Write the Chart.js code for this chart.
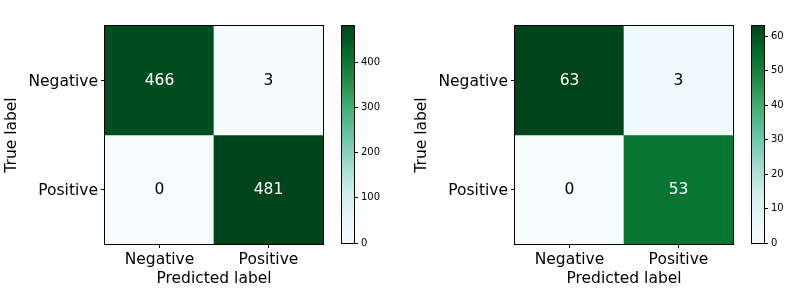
<!DOCTYPE html>
<html>
<head>
<meta charset="utf-8">
<script src="https://cdn.jsdelivr.net/npm/chart.js@4"></script>
<style>
  body { margin: 0; background: #fff; }
  #wrap { position: relative; width: 791px; height: 293px; overflow: hidden; background: #fff; }
  canvas { position: absolute; top: 0; }
</style>
</head>
<body>
<div id="wrap">
  <canvas id="cm-train" width="340" height="293" style="left:0px"></canvas>
  <canvas id="cb-train" width="50" height="293" style="left:335px"></canvas>
  <canvas id="cm-test" width="340" height="293" style="left:410px"></canvas>
  <canvas id="cb-test" width="50" height="293" style="left:745px"></canvas>
</div>
<script>
const predictedLabels = ['Negative', 'Positive'];
const trueLabels = ['Negative', 'Positive'];
const trainMatrix = [[466, 3], [0, 481]];
const testMatrix = [[63, 3], [0, 53]];
const trainTicks = [0, 100, 200, 300, 400];
const testTicks = [0, 10, 20, 30, 40, 50, 60];

// BuGn colormap
const cmapStops = ['#f7fcfd', '#e5f5f9', '#ccece6', '#99d8c9', '#66c2a4', '#41ae76', '#238b45', '#006d2c', '#00441b'];

const FONT_SIZE = 15.5;

function hexToRgb(h) {
  return [parseInt(h.slice(1, 3), 16), parseInt(h.slice(3, 5), 16), parseInt(h.slice(5, 7), 16)];
}

function cmap(t) {
  t = Math.max(0, Math.min(1, t));
  const pos = t * (cmapStops.length - 1);
  const i = Math.min(Math.floor(pos), cmapStops.length - 2);
  const f = pos - i;
  const a = hexToRgb(cmapStops[i]);
  const b = hexToRgb(cmapStops[i + 1]);
  const c = a.map((v, k) => Math.round(v + (b[k] - v) * f));
  return `rgb(${c[0]},${c[1]},${c[2]})`;
}

Chart.defaults.font.family = '"DejaVu Sans", sans-serif';
Chart.defaults.color = '#000';

const framePlugin = {
  id: 'frame',
  afterDraw(chart) {
    const { ctx, chartArea } = chart;
    ctx.save();
    ctx.strokeStyle = '#000';
    ctx.lineWidth = 1;
    ctx.strokeRect(Math.round(chartArea.left) - 0.5, Math.round(chartArea.top) - 0.5,
      Math.round(chartArea.right - chartArea.left) + 1, Math.round(chartArea.bottom - chartArea.top) + 1);
    ctx.restore();
  },
};

const cellTextPlugin = {
  id: 'cellText',
  afterDatasetsDraw(chart) {
    const { ctx } = chart;
    const { vmin, vmax } = chart.options.plugins.cellText;
    const thresh = (vmin + vmax) / 2;
    ctx.save();
    ctx.font = FONT_SIZE + 'px "DejaVu Sans"';
    ctx.textAlign = 'center';
    ctx.textBaseline = 'middle';
    chart.data.datasets.forEach((ds, i) => {
      chart.getDatasetMeta(i).data.forEach((bar, j) => {
        const v = ds.counts[j];
        const p = bar.getProps(['x', 'y', 'base'], true);
        ctx.fillStyle = v > thresh ? '#fff' : '#000';
        ctx.fillText(String(v), p.x, (p.y + p.base) / 2);
      });
    });
    ctx.restore();
  },
};

function drawMatrix(id, matrix) {
  const flat = matrix.flat();
  const vmin = Math.min(...flat);
  const vmax = Math.max(...flat);
  new Chart(document.getElementById(id), {
    type: 'bar',
    data: {
      labels: predictedLabels,
      datasets: trueLabels.map((label, i) => ({
        label,
        counts: matrix[i],
        data: matrix[i].map(() => [i, i + 1]),
        backgroundColor: matrix[i].map((v) => cmap((v - vmin) / (vmax - vmin))),
        borderWidth: 0,
        grouped: false,
        barPercentage: 1,
        categoryPercentage: 1,
      })),
    },
    options: {
      responsive: false,
      animation: false,
      events: [],
      layout: { padding: { left: 0, right: 17, top: 26, bottom: 0 } },
      plugins: {
        legend: { display: false },
        tooltip: { enabled: false },
        cellText: { vmin, vmax },
      },
      scales: {
        x: {
          type: 'category',
          offset: true,
          grid: { offset: false, drawOnChartArea: false, tickLength: 4, color: '#000' },
          border: { display: false },
          ticks: { font: { size: FONT_SIZE }, maxRotation: 0, padding: 3 },
          title: { display: true, text: 'Predicted label', font: { size: FONT_SIZE }, padding: { top: 0, bottom: 5 } },
          afterFit(scale) { scale.height = 49; },
        },
        y: {
          type: 'linear',
          min: 0,
          max: trueLabels.length,
          reverse: true,
          afterBuildTicks(scale) {
            scale.ticks = trueLabels.map((_, i) => ({ value: i + 0.5 }));
          },
          grid: { drawOnChartArea: false, tickLength: 4, color: '#000' },
          border: { display: false },
          ticks: {
            font: { size: FONT_SIZE },
            padding: 3,
            labelOffset: 1,
            callback: (v) => trueLabels[Math.floor(v)],
          },
          title: { display: true, text: 'True label', font: { size: FONT_SIZE }, padding: { top: 3, bottom: 0 } },
          afterFit(scale) { scale.width = 105; },
        },
      },
    },
    plugins: [cellTextPlugin, framePlugin],
  });
  return { vmin, vmax };
}

function drawColorbar(id, range, tickValues) {
  new Chart(document.getElementById(id), {
    type: 'bar',
    data: {
      labels: [''],
      datasets: [{
        data: [[range.vmin, range.vmax]],
        backgroundColor(context) {
          const area = context.chart.chartArea;
          if (!area) return null;
          const g = context.chart.ctx.createLinearGradient(0, area.bottom, 0, area.top);
          cmapStops.forEach((c, k) => g.addColorStop(k / (cmapStops.length - 1), c));
          return g;
        },
        borderWidth: 0,
        barPercentage: 1,
        categoryPercentage: 1,
      }],
    },
    options: {
      responsive: false,
      animation: false,
      events: [],
      layout: { padding: { left: 7, right: 0, top: 26, bottom: 50 } },
      plugins: { legend: { display: false }, tooltip: { enabled: false } },
      scales: {
        x: { display: false },
        y: {
          position: 'right',
          min: range.vmin,
          max: range.vmax,
          afterBuildTicks(scale) {
            scale.ticks = tickValues.map((v) => ({ value: v }));
          },
          grid: { drawOnChartArea: false, tickLength: 4, color: '#000' },
          border: { display: false },
          ticks: { font: { size: 10 }, padding: 3 },
          afterFit(scale) { scale.width = 31; },
        },
      },
    },
    plugins: [framePlugin],
  });
}

const trainRange = drawMatrix('cm-train', trainMatrix);
drawColorbar('cb-train', trainRange, trainTicks);
const testRange = drawMatrix('cm-test', testMatrix);
drawColorbar('cb-test', testRange, testTicks);
</script>
</body>
</html>
